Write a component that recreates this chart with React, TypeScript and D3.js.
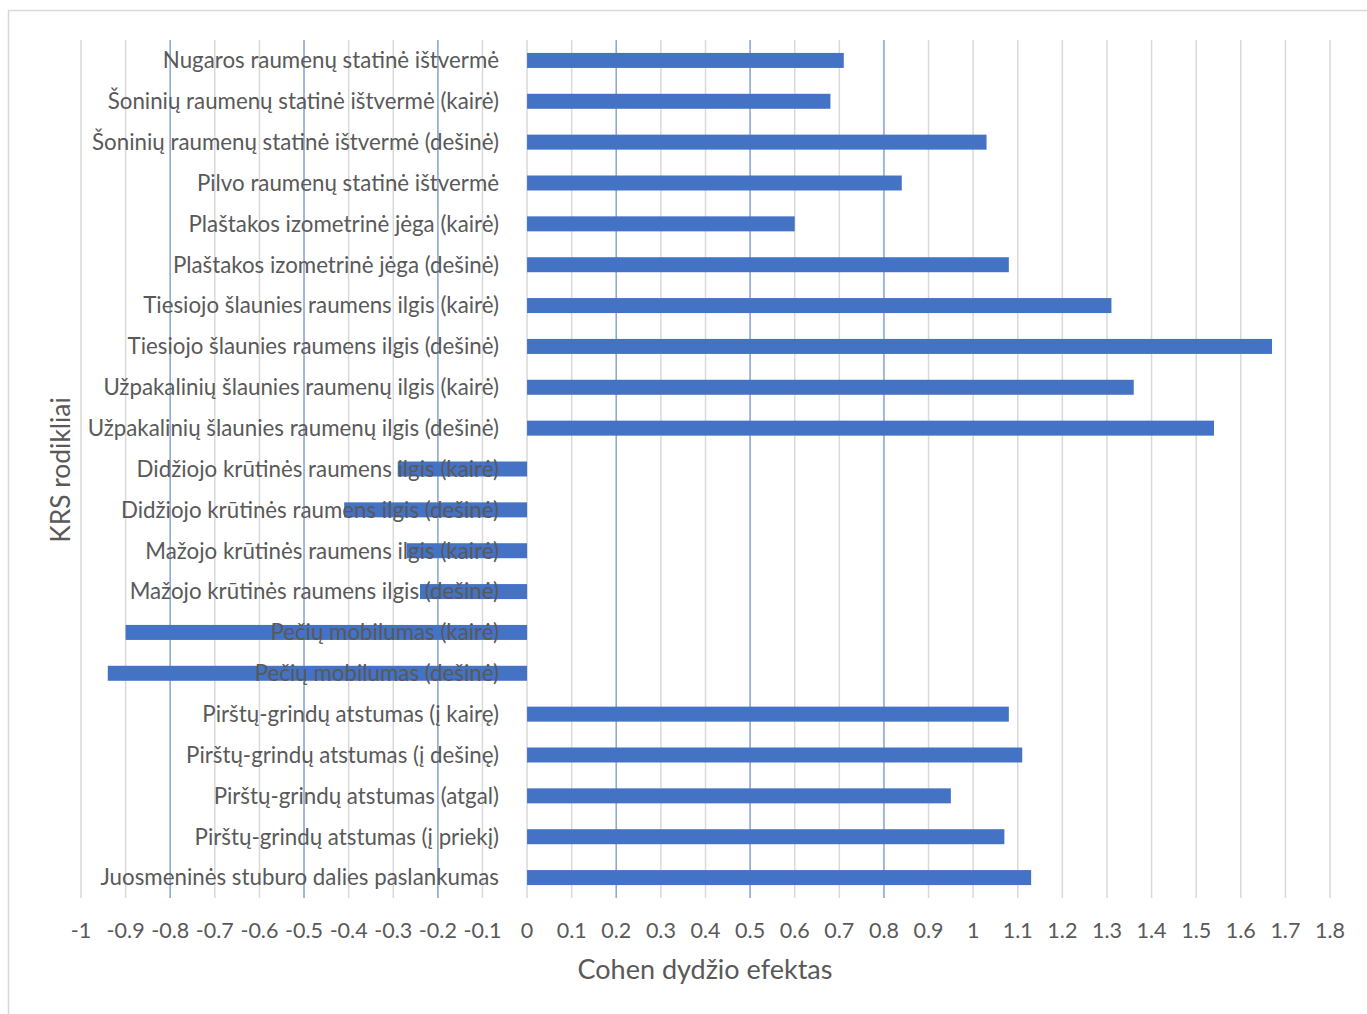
import React from "react";
import * as d3 from "d3";

const categories = [
  "Nugaros raumenų statinė ištvermė",
  "Šoninių raumenų statinė ištvermė (kairė)",
  "Šoninių raumenų statinė ištvermė (dešinė)",
  "Pilvo raumenų statinė ištvermė",
  "Plaštakos izometrinė jėga (kairė)",
  "Plaštakos izometrinė jėga (dešinė)",
  "Tiesiojo šlaunies raumens ilgis (kairė)",
  "Tiesiojo šlaunies raumens ilgis (dešinė)",
  "Užpakalinių šlaunies raumenų ilgis (kairė)",
  "Užpakalinių šlaunies raumenų ilgis (dešinė)",
  "Didžiojo krūtinės raumens ilgis (kairė)",
  "Didžiojo krūtinės raumens ilgis (dešinė)",
  "Mažojo krūtinės raumens ilgis (kairė)",
  "Mažojo krūtinės raumens ilgis (dešinė)",
  "Pečių mobilumas (kairė)",
  "Pečių mobilumas (dešinė)",
  "Pirštų-grindų atstumas (į kairę)",
  "Pirštų-grindų atstumas (į dešinę)",
  "Pirštų-grindų atstumas (atgal)",
  "Pirštų-grindų atstumas (į priekį)",
  "Juosmeninės stuburo dalies paslankumas",
];

const values = [
  0.71, 0.68, 1.03, 0.84, 0.6, 1.08, 1.31, 1.67, 1.36, 1.54,
  -0.29, -0.41, -0.27, -0.24, -0.9, -0.94,
  1.08, 1.11, 0.95, 1.07, 1.13,
];

const ticks = d3.range(-10, 19).map((i) => i / 10);
const thresholds = [-0.8, -0.5, -0.2, 0.2, 0.5, 0.8];

const xTitle = "Cohen dydžio efektas";
const yTitle = "KRS rodikliai";

const FONT = "Lato, 'Open Sans', sans-serif";
const TEXT = "#595959";

export default function App() {
  const x = d3.scaleLinear().domain([-1, 1.8]).range([81, 1330]);
  const y = d3
    .scaleBand<string>()
    .domain(categories)
    .range([40, 898])
    .paddingInner(0.633)
    .paddingOuter(0.3165);
  const fmt = (v: number) => String(Math.round(v * 10) / 10);
  return (
    <svg
      width={1367}
      height={1014}
      style={{ position: "absolute", left: 0, top: 0, background: "#fff" }}
      fontFamily={FONT}
    >
      <rect x={8.5} y={10.5} width={1400} height={1100} fill="#fff" stroke="#d9d9d9" strokeWidth={1.5} />
      {ticks.map((t) => (
        <line key={"g" + t} x1={x(t)} x2={x(t)} y1={40} y2={898} stroke="#d9d9d9" strokeWidth={1.5} />
      ))}
      {thresholds.map((t) => (
        <line key={"b" + t} x1={x(t)} x2={x(t)} y1={40} y2={898} stroke="#8fa9d8" strokeWidth={1.5} />
      ))}
      {categories.map((c, i) => {
        const v = values[i];
        return (
          <rect
            key={"r" + c}
            x={x(Math.min(0, v))}
            y={y(c)}
            width={Math.abs(x(v) - x(0))}
            height={y.bandwidth()}
            fill="#4472c4"
          />
        );
      })}
      {categories.map((c) => (
        <text
          key={"l" + c}
          x={499}
          y={(y(c) as number) + y.bandwidth() / 2}
          dy="0.35em"
          textAnchor="end"
          fontSize={22.3}
          fill={TEXT}
        >
          {c}
        </text>
      ))}
      {ticks.map((t) => (
        <text key={"t" + t} x={x(t)} y={930} dy="0.35em" textAnchor="middle" fontSize={21.5} fill={TEXT}>
          {fmt(t)}
        </text>
      ))}
      <text x={705} y={970} dy="0.35em" textAnchor="middle" fontSize={27} fill={TEXT}>
        {xTitle}
      </text>
      <text transform="translate(61,470) rotate(-90)" dy="0.35em" textAnchor="middle" fontSize={26.4} fill={TEXT}>
        {yTitle}
      </text>
    </svg>
  );
}
